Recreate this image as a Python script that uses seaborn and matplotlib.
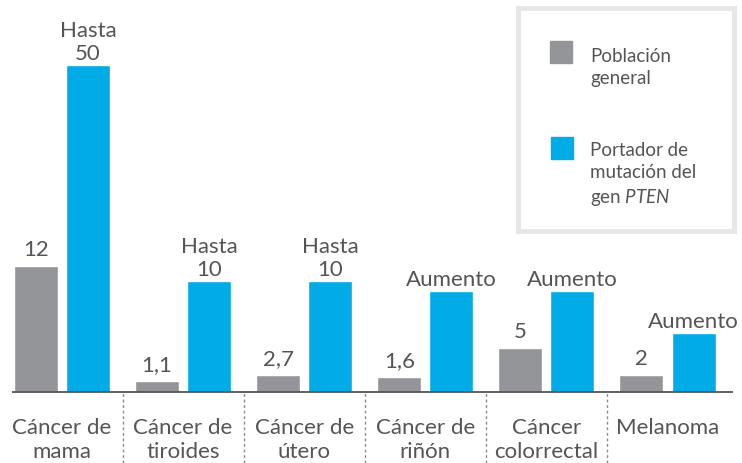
import matplotlib
matplotlib.use('Agg')
import matplotlib.pyplot as plt
import seaborn as sns
import pandas as pd
from matplotlib.patches import Rectangle

# Datos (alturas de barra; el original no está a escala)
categorias = ["mama", "tiroides", "utero", "rinon", "colorrectal", "melanoma"]
etiquetas_cat = ["Cáncer de\nmama", "Cáncer de\ntiroides", "Cáncer de\nútero",
                 "Cáncer de\nriñón", "Cáncer\ncolorrectal", "Melanoma"]
altura_general = [126, 11, 17, 15, 44, 17]
altura_pten = [327, 111, 111, 101, 101, 59]
texto_general = ["12", "1,1", "2,7", "1,6", "5", "2"]
texto_pten = ["Hasta\n50", "Hasta\n10", "Hasta\n10", "Aumento", "Aumento", "Aumento"]
series = ["Población general", "Portador de mutación del gen PTEN"]

GRIS = "#939598"
AZUL = "#00abe6"
TEXTO = "#555555"
W, H = 742, 463

sns.set_style("white")
plt.rcParams['font.family'] = ['Lato', 'DejaVu Sans']
plt.rcParams['mathtext.fontset'] = 'custom'
plt.rcParams['mathtext.it'] = 'Lato:italic'
plt.rcParams['mathtext.rm'] = 'Lato'

df = pd.DataFrame({
    "categoria": categorias * 2,
    "serie": [series[0]] * 6 + [series[1]] * 6,
    "altura": altura_general + altura_pten,
})

fig = plt.figure(figsize=(W / 100, H / 100), dpi=100)
ax = fig.add_axes([0, 0, 1, 1])
sns.barplot(data=df, x="categoria", y="altura", hue="serie", palette=[GRIS, AZUL],
            width=0.86, gap=0.154, saturation=1, legend=False, ax=ax)

# escala: 1 unidad y = 1 px, categorías cada 121.1 px
paso = 121.1
c0 = 62
ax.set_xlim(-c0 / paso, (W - c0) / paso)
ax.set_ylim(-(H - 392), 392)

ax.bar_label(ax.containers[0], labels=texto_general, padding=4.5, fontsize=16,
             color=TEXTO)
ax.bar_label(ax.containers[1], labels=texto_pten, padding=0.5, fontsize=16,
             color=TEXTO, linespacing=1.2)

# eje base y separadores
ax.hlines(0, (12 - c0) / paso, (733 - c0) / paso, color="#555555", lw=1.3)
ax.vlines([i + 0.5 for i in range(5)], -(H - 392), 0, color="#8a8a8a", lw=1,
          linestyles=(0, (2, 2)))

for s in ax.spines.values():
    s.set_visible(False)
ax.spines['bottom'].set_position(('data', 0))
ax.set_xlabel("")
ax.set_ylabel("")
ax.set_yticks([])
ax.set_xticks(range(6))
ax.set_xticklabels(etiquetas_cat, fontsize=16, color=TEXTO, linespacing=1.3)
ax.tick_params(axis='x', length=0, pad=18.5)


def fx(x):
    return x / W


def fy(y):
    return 1 - y / H


# leyenda dibujada a mano
fig.patches.append(Rectangle((fx(517.5), fy(230.5)), fx(216), 222 / H,
                             transform=fig.transFigure, facecolor="white",
                             edgecolor="#e6e7e8", lw=3.6))
fig.patches.append(Rectangle((fx(550), fy(63)), fx(22), 22 / H,
                             transform=fig.transFigure, color=GRIS))
fig.patches.append(Rectangle((fx(551), fy(159)), fx(22), 22 / H,
                             transform=fig.transFigure, color=AZUL))
# va='baseline' alinea la última línea
fig.text(fx(590), fy(84), "Población\ngeneral", fontsize=13.5, color=TEXTO,
         va='baseline', linespacing=1.35)
fig.text(fx(590), fy(203), "Portador de\nmutación del\ngen $\\mathit{PTEN}$",
         fontsize=13.5, color=TEXTO, va='baseline', linespacing=1.35)

plt.savefig("out.png", dpi=100)
